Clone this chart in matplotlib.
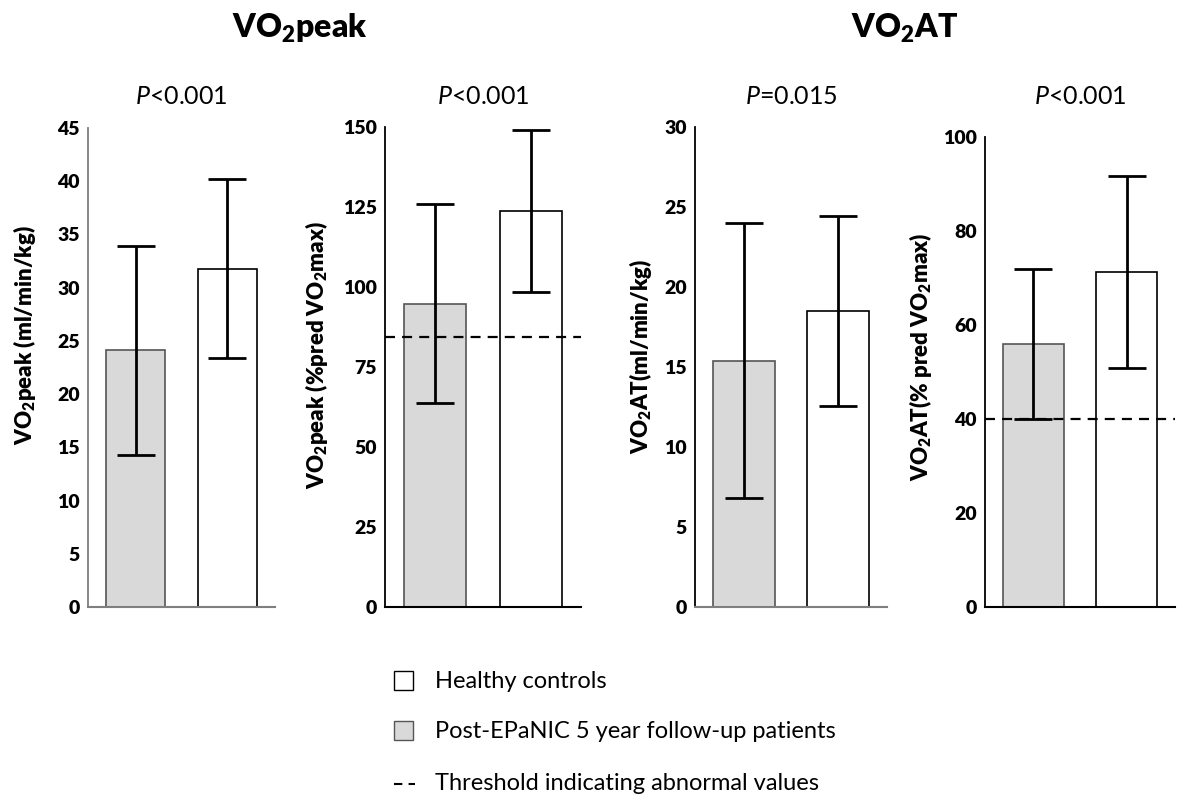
import matplotlib
matplotlib.use("Agg")
import matplotlib.pyplot as plt
import numpy as np
from matplotlib.patches import Rectangle
from matplotlib.lines import Line2D

plt.rcParams['font.family'] = ['Lato', 'DejaVu Sans']
plt.rcParams['mathtext.fontset'] = 'custom'
plt.rcParams['mathtext.rm'] = 'Lato'
plt.rcParams['mathtext.it'] = 'Lato:italic'
plt.rcParams['mathtext.bf'] = 'Lato:heavy'

groups = ["Post-EPaNIC 5 year follow-up patients", "Healthy controls"]

# mean and SD per panel: [patients, controls]
peak_abs_mean = [24.1, 31.8]
peak_abs_sd = [9.8, 8.4]
peak_pct_mean = [94.8, 123.7]
peak_pct_sd = [31.2, 25.3]
at_abs_mean = [15.4, 18.5]
at_abs_sd = [8.6, 5.95]
at_pct_mean = [56.0, 71.3]
at_pct_sd = [15.9, 20.4]

thresholds = [None, 84.5, None, 40]
p_labels = [r"$\mathit{P}$<0.001", r"$\mathit{P}$<0.001",
            r"$\mathit{P}$=0.015", r"$\mathit{P}$<0.001"]
y_labels = [r"VO$_\mathbf{2}$peak (ml/min/kg)",
            r"VO$_\mathbf{2}$peak (%pred VO$_\mathbf{2}$max)",
            r"VO$_\mathbf{2}$AT(ml/min/kg)",
            r"VO$_\mathbf{2}$AT(% pred VO$_\mathbf{2}$max)"]
y_max = [45, 150, 30, 100]
y_step = [5, 25, 5, 20]

means = [peak_abs_mean, peak_pct_mean, at_abs_mean, at_pct_mean]
sds = [peak_abs_sd, peak_pct_sd, at_abs_sd, at_pct_sd]

W, H = 1186, 807
fig = plt.figure(figsize=(W / 100, H / 100), dpi=100)


def px_rect(left, right, top, bottom):
    return [left / W, 1 - bottom / H, (right - left) / W, (bottom - top) / H]


# axes boxes in pixels: left, right, top, bottom
boxes = [(88, 275, 128, 607), (385, 581, 127, 607),
         (695, 887, 127, 607), (985, 1175, 137, 607)]
label_x = [25, 317, 640, 920]
label_y = [335, 355, 356, 357]
spine_colors = [("#7f7f7f", "#7f7f7f"), ("black", "black"),
                ("black", "#7f7f7f"), ("black", "black")]

x = np.arange(2)
for i in range(4):
    ax = fig.add_axes(px_rect(*boxes[i]))
    ax.bar(x, means[i], width=0.65, color=["#d9d9d9", "white"],
           edgecolor=["#555555", "black"], linewidth=1.2, zorder=2)
    ax.errorbar(x, means[i], yerr=sds[i], fmt="none", ecolor="black",
                elinewidth=2.0, capsize=13.5, capthick=2.0, zorder=4)
    if thresholds[i] is not None:
        ax.axhline(thresholds[i], color="black", lw=1.6,
                   dashes=(4.5, 3.2), zorder=3)
    ax.set_xlim(-0.52, 1.52)
    ax.set_ylim(0, y_max[i])
    ticks = np.arange(0, y_max[i] + 1, y_step[i])
    ax.set_yticks(ticks, labels=[str(t) for t in ticks],
                  fontweight="heavy", fontsize=14)
    ax.set_xticks([])
    ax.tick_params(axis="y", length=0, pad=6)
    for side in ["top", "right"]:
        ax.spines[side].set_visible(False)
    ax.spines["left"].set_color(spine_colors[i][0])
    ax.spines["bottom"].set_color(spine_colors[i][1])
    ax.spines["left"].set_linewidth(1.3)
    ax.spines["bottom"].set_linewidth(1.5)
    ax.patch.set_visible(False)

    l, r, t, b = boxes[i]
    fig.text((l + r) / 2 / W, 1 - 104 / H, p_labels[i], fontsize=18,
             ha="center", va="baseline")
    fig.text(label_x[i] / W, 1 - label_y[i] / H, y_labels[i], rotation=90,
             fontsize=16, fontweight="heavy", ha="center", va="center")

# section headings
fig.text(300 / W, 1 - 38 / H, r"VO$_\mathbf{2}$peak", fontsize=23,
         fontweight="heavy", ha="center", va="baseline")
fig.text(905 / W, 1 - 38 / H, r"VO$_\mathbf{2}$AT", fontsize=23,
         fontweight="heavy", ha="center", va="baseline")

# legend
box_l, box_s = 394, 19
rows = [680, 730, 781]
fig.add_artist(Rectangle((box_l / W, 1 - (rows[0] + box_s / 2) / H),
                         box_s / W, box_s / H, transform=fig.transFigure,
                         facecolor="white", edgecolor="black", lw=1.0))
fig.add_artist(Rectangle((box_l / W, 1 - (rows[1] + box_s / 2) / H),
                         box_s / W, box_s / H, transform=fig.transFigure,
                         facecolor="#d9d9d9", edgecolor="#555555", lw=1.0))
fig.add_artist(Line2D([box_l / W, (box_l + 21) / W],
                      [1 - (rows[2] + 3) / H] * 2, transform=fig.transFigure,
                      color="black", lw=1.5, dashes=(4, 3)))
legend_texts = [groups[1], groups[0], "Threshold indicating abnormal values"]
for ry, txt in zip(rows, legend_texts):
    fig.text(435 / W, 1 - ry / H, txt, fontsize=17, ha="left",
             va="center_baseline")

fig.savefig("out.png", dpi=100)
